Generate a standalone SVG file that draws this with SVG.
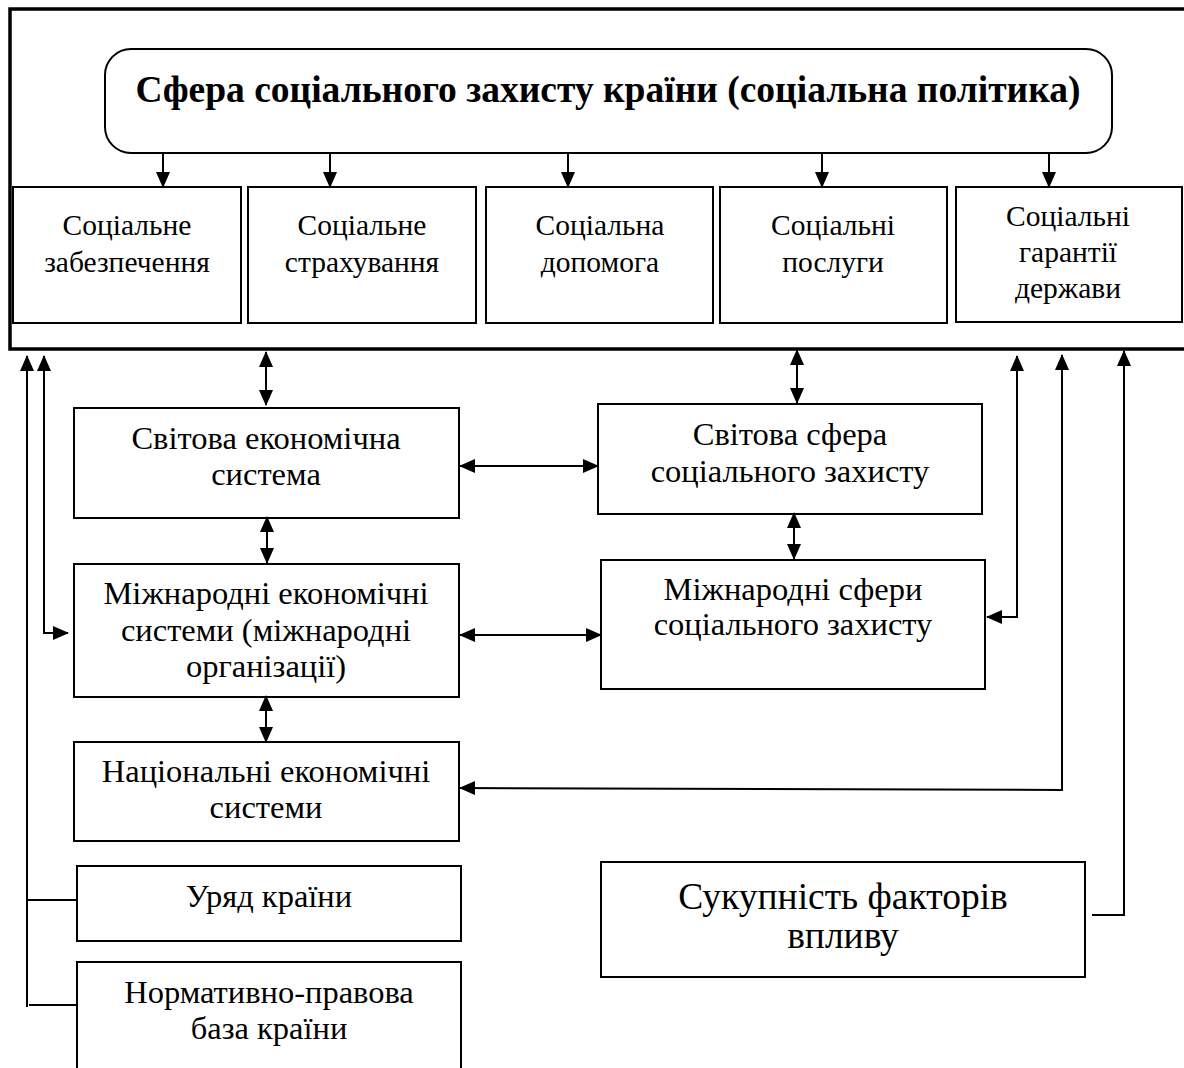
<svg xmlns="http://www.w3.org/2000/svg" width="1184" height="1068" viewBox="0 0 1184 1068">
  <style>
    .box { fill: #fff; stroke: #000; stroke-width: 2; }
    .frame { fill: none; stroke: #000; stroke-width: 3.5; }
    .t { font-family: "Liberation Serif", "Times New Roman", serif; font-size: 29.5px; fill: #000; text-anchor: middle; }
    .tm { font-family: "Liberation Serif", "Times New Roman", serif; font-size: 32.5px; fill: #000; text-anchor: middle; }
    .tb { font-family: "Liberation Serif", "Times New Roman", serif; font-size: 37.5px; font-weight: bold; fill: #000; text-anchor: middle; }
    .tl { font-family: "Liberation Serif", "Times New Roman", serif; font-size: 37.5px; fill: #000; text-anchor: middle; }
    .c { fill: none; stroke: #000; stroke-width: 2; }
  </style>
  <defs>
    <marker id="ah" markerUnits="userSpaceOnUse" markerWidth="16" markerHeight="14" refX="15" refY="7" orient="auto-start-reverse" viewBox="0 0 16 14">
      <path d="M0,0 L16,7 L0,14 Z" fill="#000"/>
    </marker>
  </defs>

  <!-- outer frame of the social protection sphere -->
  <path class="frame" d="M1190,9 H10 V349 H1190"/>

  <g id="policy">
    <rect class="box" x="105" y="49" width="1007" height="104" rx="26" ry="26"/>
    <text class="tb" x="608" y="102">Сфера соціального захисту країни (соціальна політика)</text>
  </g>

  <g id="security">
    <rect class="box" x="13" y="187" width="228" height="136"/>
    <text class="t" x="127" y="235">Соціальне</text>
    <text class="t" x="127" y="272">забезпечення</text>
  </g>
  <g id="insurance">
    <rect class="box" x="248" y="187" width="228" height="136"/>
    <text class="t" x="362" y="235">Соціальне</text>
    <text class="t" x="362" y="272">страхування</text>
  </g>
  <g id="assistance">
    <rect class="box" x="486" y="187" width="227" height="136"/>
    <text class="t" x="600" y="235">Соціальна</text>
    <text class="t" x="600" y="272">допомога</text>
  </g>
  <g id="services">
    <rect class="box" x="720" y="187" width="227" height="136"/>
    <text class="t" x="833" y="235">Соціальні</text>
    <text class="t" x="833" y="272">послуги</text>
  </g>
  <g id="guarantees">
    <rect class="box" x="956" y="187" width="226" height="135"/>
    <text class="t" x="1068" y="226">Соціальні</text>
    <text class="t" x="1068" y="262">гарантії</text>
    <text class="t" x="1068" y="298">держави</text>
  </g>

  <g id="world-economy">
    <rect class="box" x="74" y="408" width="385" height="110"/>
    <text class="tm" x="266" y="449">Світова економічна</text>
    <text class="tm" x="266" y="485">система</text>
  </g>
  <g id="world-protection">
    <rect class="box" x="598" y="404" width="384" height="110"/>
    <text class="tm" x="790" y="445">Світова сфера</text>
    <text class="tm" x="790" y="482">соціального захисту</text>
  </g>
  <g id="intl-economy">
    <rect class="box" x="74" y="564" width="385" height="133"/>
    <text class="tm" x="266" y="604">Міжнародні економічні</text>
    <text class="tm" x="266" y="641">системи (міжнародні</text>
    <text class="tm" x="266" y="677">організації)</text>
  </g>
  <g id="intl-protection">
    <rect class="box" x="601" y="560" width="384" height="129"/>
    <text class="tm" x="793" y="600">Міжнародні сфери</text>
    <text class="tm" x="793" y="635">соціального захисту</text>
  </g>
  <g id="national-economy">
    <rect class="box" x="74" y="742" width="385" height="99"/>
    <text class="tm" x="266" y="782">Національні економічні</text>
    <text class="tm" x="266" y="818">системи</text>
  </g>
  <g id="government">
    <rect class="box" x="77" y="866" width="384" height="75"/>
    <text class="tm" x="269" y="907">Уряд країни</text>
  </g>
  <g id="legal-base">
    <path class="box" d="M77,1070 V962 H461 V1070"/>
    <text class="tm" x="269" y="1003">Нормативно-правова</text>
    <text class="tm" x="269" y="1039">база країни</text>
  </g>
  <g id="factors">
    <rect class="box" x="601" y="862" width="484" height="115"/>
    <text class="tl" x="843" y="909">Сукупність факторів</text>
    <text class="tl" x="843" y="948">впливу</text>
  </g>

  <g id="connectors">
    <!-- policy to its five instruments -->
    <path class="c" d="M163,153 V187" marker-end="url(#ah)"/>
    <path class="c" d="M330,153 V187" marker-end="url(#ah)"/>
    <path class="c" d="M568,153 V187" marker-end="url(#ah)"/>
    <path class="c" d="M822,153 V187" marker-end="url(#ah)"/>
    <path class="c" d="M1049,153 V187" marker-end="url(#ah)"/>

    <!-- two-way links -->
    <path class="c" d="M266,352 V405" marker-start="url(#ah)" marker-end="url(#ah)"/>
    <path class="c" d="M267,517 V563" marker-start="url(#ah)" marker-end="url(#ah)"/>
    <path class="c" d="M266,696 V742" marker-start="url(#ah)" marker-end="url(#ah)"/>
    <path class="c" d="M797,350 V403" marker-start="url(#ah)" marker-end="url(#ah)"/>
    <path class="c" d="M794,513 V559" marker-start="url(#ah)" marker-end="url(#ah)"/>
    <path class="c" d="M460,466 H598" marker-start="url(#ah)" marker-end="url(#ah)"/>
    <path class="c" d="M460,635 H601" marker-start="url(#ah)" marker-end="url(#ah)"/>

    <!-- left feedback lines -->
    <path class="c" d="M27,1007 V356" marker-end="url(#ah)"/>
    <path class="c" d="M27,900 H77"/>
    <path class="c" d="M29,1005 H77"/>
    <path class="c" d="M44,356 V633 H68" marker-start="url(#ah)" marker-end="url(#ah)"/>

    <!-- right feedback lines -->
    <path class="c" d="M987,617 H1017 V356" marker-start="url(#ah)" marker-end="url(#ah)"/>
    <path class="c" d="M460,788 L1062,790 V355" marker-start="url(#ah)" marker-end="url(#ah)"/>
    <path class="c" d="M1092,915 H1124 V351" marker-end="url(#ah)"/>
  </g>
</svg>
